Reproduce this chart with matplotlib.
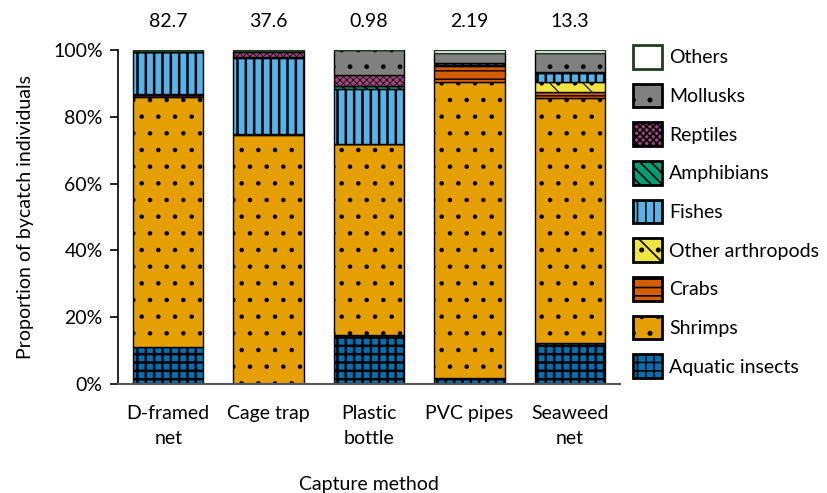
import numpy as np
import matplotlib
matplotlib.use("Agg")
import matplotlib.pyplot as plt
from matplotlib.patches import Patch

plt.rcParams["font.family"] = ["Lato", "DejaVu Sans"]
plt.rcParams["hatch.linewidth"] = 1.2

# capture methods and total catch shown above each bar
methods = ["D-framed\nnet", "Cage trap", "Plastic\nbottle", "PVC pipes", "Seaweed\nnet"]
totals = ["82.7", "37.6", "0.98", "2.19", "13.3"]

# proportions (%) per group, bottom to top of the stack
aquatic_insects = [11.1, 0.0, 14.7, 1.8, 12.3]
shrimps = [74.8, 74.6, 57.3, 88.7, 73.2]
crabs = [0.6, 0.2, 0.0, 4.8, 2.0]
other_arthropods = [0.3, 0.1, 0.0, 0.3, 3.0]
fishes = [12.7, 22.6, 16.2, 0.6, 2.5]
amphibians = [0.0, 0.5, 1.0, 0.0, 0.0]
reptiles = [0.0, 1.3, 3.3, 0.0, 0.3]
mollusks = [0.3, 0.3, 7.5, 2.8, 5.7]
others = [0.2, 0.4, 0.0, 1.0, 1.0]

groups = ["Aquatic insects", "Shrimps", "Crabs", "Other arthropods", "Fishes",
          "Amphibians", "Reptiles", "Mollusks", "Others"]
values = [aquatic_insects, shrimps, crabs, other_arthropods, fishes,
          amphibians, reptiles, mollusks, others]
colors = ["#0072b2", "#e69f00", "#d55e00", "#f0e442", "#56b4e9",
          "#009e73", "#a0467f", "#808080", "#ffffff"]
hatches = ["++", ".", "--", "\\.", "||", "\\\\\\", "xxxxx", ".", ""]
hatch_lw = [1.8, 0.8, 1.0, 0.8, 1.8, 1.5, 0.5, 1.0, 1.0]
edges = ["black"] * 8 + ["#1f3b1f"]

FS = 14

fig = plt.figure(figsize=(8.27, 4.93), dpi=100)
ax = fig.add_axes([0.1427, 0.2211, 0.607, 0.6775])

x = np.arange(len(methods))
bottom = np.zeros(len(methods))
handles = []
for name, vals, c, h, lw, ec in zip(groups, values, colors, hatches, hatch_lw, edges):
    vals = np.array(vals)
    bars = ax.bar(x, vals, 0.7, bottom=bottom, color=c, edgecolor=ec,
                  linewidth=1.0, hatch=h, label=name)
    for b in bars:
        if hasattr(b, "set_hatch_linewidth"):
            b.set_hatch_linewidth(lw)
    bottom += vals
    hp = Patch(facecolor=c, edgecolor=ec, hatch=h, linewidth=2.0)
    if hasattr(hp, "set_hatch_linewidth"):
        hp.set_hatch_linewidth(lw)
    handles.append(hp)

for xi, t in zip(x, totals):
    ax.text(xi, 108.5, t, ha="center", va="center", fontsize=FS, clip_on=False)

ax.set_xlim(-0.5, len(methods) - 0.5)
ax.set_ylim(0, 100)
ax.set_yticks(np.arange(0, 101, 20))
ax.set_yticklabels([f"{v}%" for v in range(0, 101, 20)])
ax.set_xticks(x)
ax.set_xticklabels(methods, linespacing=1.55)
ax.tick_params(axis="x", length=0, labelsize=FS, pad=15)
ax.tick_params(axis="y", length=6, labelsize=FS, direction="out", width=1.2, pad=5)
for s in ["top", "right"]:
    ax.spines[s].set_visible(False)
ax.spines["left"].set_linewidth(1.2)
ax.spines["bottom"].set_linewidth(1.5)
ax.spines["bottom"].set_color("#555555")
ax.set_ylabel("Proportion of bycatch individuals", fontsize=FS, labelpad=14)
ax.set_xlabel("Capture method", fontsize=FS, labelpad=21)

ax.legend(handles[::-1], groups[::-1], loc="upper left", bbox_to_anchor=(0.995, 1.062),
          frameon=False, fontsize=FS, handlelength=1.5, handleheight=1.5,
          labelspacing=0.77, handletextpad=0.35, borderaxespad=0.4)

fig.savefig("out.png", dpi=100)
